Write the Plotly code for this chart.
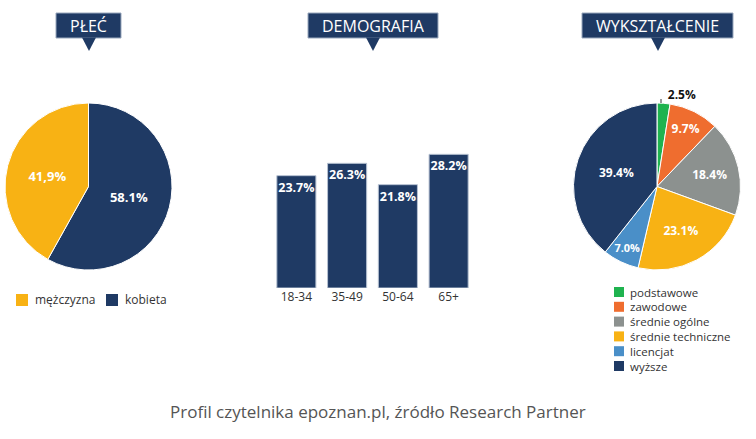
import plotly.graph_objects as go

W, H = 756, 439

# ---- data ----
gender_labels = ["mężczyzna", "kobieta"]
gender_values = [41.9, 58.1]
gender_text = ["41,9%", "58.1%"]
gender_colors = ["#f8b214", "#1f3a64"]

age_groups = ["18-34", "35-49", "50-64", "65+"]
age_values = [23.7, 26.3, 21.8, 28.2]

edu_labels = ["podstawowe", "zawodowe", "średnie ogólne", "średnie techniczne", "licencjat", "wyższe"]
edu_values = [2.5, 9.7, 18.4, 23.1, 7.0, 39.4]
edu_colors = ["#1fb34f", "#ef6d2f", "#8c918f", "#f8b214", "#4a8fc8", "#1f3a64"]

titles = ["PŁEĆ", "DEMOGRAFIA", "WYKSZTAŁCENIE"]
footer = "Profil czytelnika epoznan.pl, źródło Research Partner"

NAVY = "#1f3a64"
FONT = "Open Sans"


def px(x):
    return x / W


def py(y):
    return 1 - y / H


fig = go.Figure()

# Gender pie: kobieta runs clockwise from 12 o'clock, then mężczyzna
fig.add_trace(go.Pie(
    labels=gender_labels[::-1], values=gender_values[::-1], text=gender_text[::-1],
    textinfo="text", sort=False, direction="clockwise", rotation=0,
    marker=dict(colors=gender_colors[::-1], line=dict(color="#ffffff", width=1)),
    insidetextfont=dict(color="white", size=13, family=FONT, weight="bold"),
    insidetextorientation="horizontal",
    textposition="inside",
    domain=dict(x=[px(5), px(172)], y=[py(270), py(103)]),
    showlegend=False, hoverinfo="label+percent",
))

fig.add_trace(go.Bar(
    x=age_groups, y=age_values,
    texttemplate="%{y:.1f}%", textposition="inside", insidetextanchor="end", textangle=0,
    constraintext="none",
    textfont=dict(color="white", size=12.5, family=FONT, weight="bold"),
    marker=dict(color=NAVY, line=dict(color="#b7c2d2", width=1)),
    showlegend=False, xaxis="x", yaxis="y", cliponaxis=False,
))

fig.add_trace(go.Pie(
    labels=edu_labels, values=edu_values,
    texttemplate="%{value:.1f}%", sort=False, direction="clockwise", rotation=0,
    marker=dict(colors=edu_colors, line=dict(color="#ffffff", width=1)),
    textposition=["outside", "inside", "inside", "inside", "inside", "inside"],
    insidetextfont=dict(color="white", size=12, family=FONT, weight="bold"),
    outsidetextfont=dict(color="#111111", size=12, family=FONT, weight="bold"),
    insidetextorientation="horizontal",
    domain=dict(x=[px(573), px(741)], y=[py(270), py(103)]),
    showlegend=False, hoverinfo="label+percent",
))

shapes = []
annotations = []

# title boxes with pointers
boxes = [(56, 121, 89), (308, 438, 373), (582, 733, 658)]
for (x0, x1, tip), t in zip(boxes, titles):
    shapes.append(dict(type="rect", xref="paper", yref="paper",
                       x0=px(x0), x1=px(x1), y0=py(38), y1=py(13),
                       fillcolor=NAVY, line=dict(color="#9aa8bd", width=1)))
    shapes.append(dict(type="path", xref="paper", yref="paper",
                       path=f"M{px(tip-7)},{py(37.5)} L{px(tip+7)},{py(37.5)} L{px(tip)},{py(51)} Z",
                       fillcolor=NAVY, line=dict(width=0)))
    annotations.append(dict(text=t, x=px((x0 + x1) / 2), y=py(25.5), xref="paper", yref="paper",
                            showarrow=False, xanchor="center", yanchor="middle",
                            font=dict(color="white", size=16, family=FONT)))

# small leader tick for the outside 2.5% label
shapes.append(dict(type="line", xref="paper", yref="paper",
                   x0=px(661), x1=px(661), y0=py(103), y1=py(99),
                   line=dict(color="#333333", width=1)))

# legend for gender pie (horizontal)
leg1_x = [16, 106]
for lx, lab, col in zip(leg1_x, gender_labels, gender_colors):
    shapes.append(dict(type="rect", xref="paper", yref="paper",
                       x0=px(lx), x1=px(lx + 12), y0=py(306), y1=py(294),
                       fillcolor=col, line=dict(width=0)))
    annotations.append(dict(text=lab, x=px(lx + 17), y=py(299.5), xref="paper", yref="paper",
                            showarrow=False, xanchor="left", yanchor="middle",
                            font=dict(color="#333333", size=12, family=FONT)))

# legend for education pie (vertical)
for i, (lab, col) in enumerate(zip(edu_labels, edu_colors)):
    cy = 292 + i * 14.8
    shapes.append(dict(type="rect", xref="paper", yref="paper",
                       x0=px(614), x1=px(624), y0=py(cy + 5), y1=py(cy - 5),
                       fillcolor=col, line=dict(width=0)))
    annotations.append(dict(text=lab, x=px(628), y=py(cy), xref="paper", yref="paper",
                            showarrow=False, xanchor="left", yanchor="middle",
                            font=dict(color="#333333", size=11.5, family=FONT)))

annotations.append(dict(text=footer, x=0.5, y=py(411), xref="paper", yref="paper",
                        showarrow=False, xanchor="center", yanchor="middle",
                        font=dict(color="#555555", size=17, family=FONT)))

fig.update_layout(
    width=W, height=H, margin=dict(l=0, r=0, t=0, b=0),
    paper_bgcolor="white", plot_bgcolor="white",
    font=dict(family=FONT, color="#333333"),
    bargap=0.23,
    xaxis=dict(domain=[px(271), px(474)], showgrid=False, zeroline=False, showline=False,
               ticks="", tickfont=dict(size=12, color="#333333", family=FONT), fixedrange=True),
    yaxis=dict(domain=[py(288), py(150)], range=[0, 138 / 4.74], visible=False, fixedrange=True),
    shapes=shapes, annotations=annotations, showlegend=False,
)

fig.write_html("out.html")
